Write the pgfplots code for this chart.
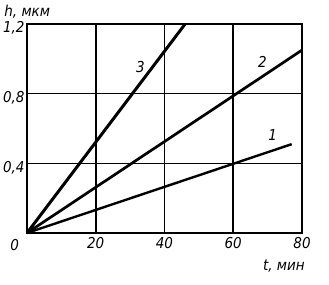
\documentclass[border=0pt]{standalone}
\usepackage{fontspec}
\setmainfont{DejaVu Sans Condensed}[ItalicFont={DejaVu Sans Condensed Oblique}]
\usepackage{pgfplots}
\pgfplotsset{compat=1.18}
\begin{document}
\begin{tikzpicture}
\begin{axis}[
  scale only axis, width=275pt, height=209pt,
  xmin=0, xmax=80, ymin=0, ymax=1.2,
  xtick={20,40,60,80}, ytick={0.4,0.8,1.2},
  yticklabels={{0,4},{0,8},{1,2}},
  grid=major, major grid style={black, line width=1.6pt},
  axis line style={black, line width=2pt},
  tick style={draw=none},
  tick label style={font=\fontsize{15}{15}\selectfont\itshape},
  /pgf/number format/assume math mode=true,
  xticklabel style={yshift=-1pt},
  yticklabel style={yshift=-4pt, xshift=1pt},
  clip=false,
]
\addplot[black, line width=3pt] coordinates {(0,0) (46,1.2)};
\addplot[black, line width=2.7pt] coordinates {(0,0) (80,1.05)};
\addplot[black, line width=2.4pt] coordinates {(0,0) (77,0.51)};
\node[font=\fontsize{15}{15}\selectfont\itshape] at (axis cs:33,0.95) {3};
\node[font=\fontsize{15}{15}\selectfont\itshape] at (axis cs:68.5,0.98) {2};
\node[font=\fontsize{15}{15}\selectfont\itshape] at (axis cs:71.5,0.56) {1};
\node[font=\fontsize{15}{15}\selectfont\itshape] at (axis cs:-3.6,-0.07) {0};
\node[font=\fontsize{15}{15}\selectfont\itshape, anchor=west] at (axis cs:-7.6,1.27) {h, мкм};
\node[font=\fontsize{15}{15}\selectfont\itshape, anchor=east] at (axis cs:81.8,-0.19) {t, мин};
\coordinate (O) at (rel axis cs:0,0);
\coordinate (T) at (rel axis cs:1,1);
\end{axis}
\pgfresetboundingbox
\path[use as bounding box] ([shift={(-27pt,-52pt)}]O) rectangle ([shift={(27pt,24pt)}]T);
\end{tikzpicture}
\end{document}
